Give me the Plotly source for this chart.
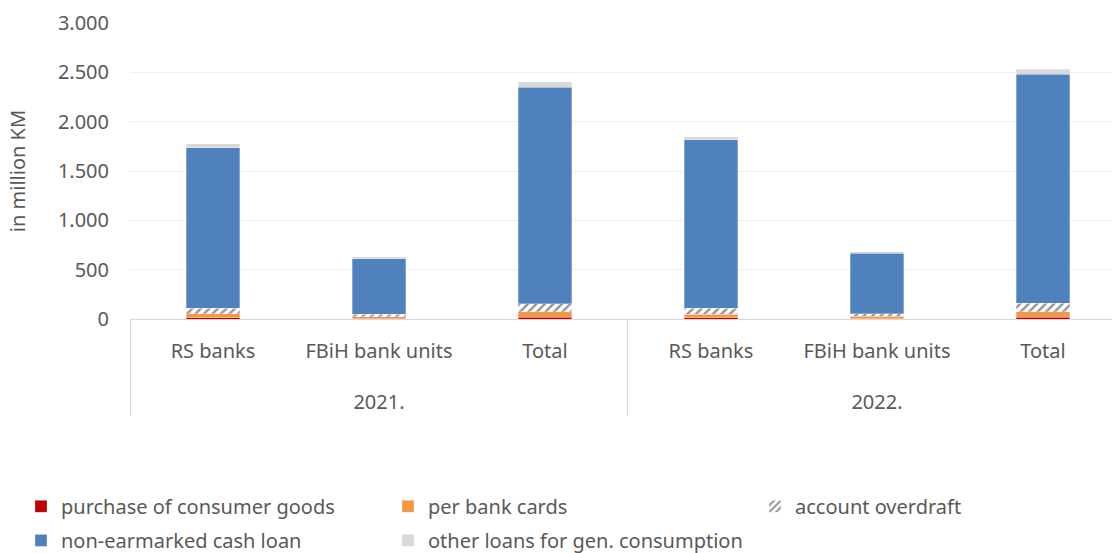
import plotly.graph_objects as go

# Consumer loans by purpose, in million KM
years = ["2021.", "2021.", "2021.", "2022.", "2022.", "2022."]
groups = ["RS banks", "FBiH bank units", "Total", "RS banks", "FBiH bank units", "Total"]

consumer_goods = [15, 3, 18, 12, 4, 16]
bank_cards = [37, 20, 57, 35, 22, 57]
overdraft = [58, 23, 81, 60, 27, 87]
cash_loan = [1627, 564, 2191, 1708, 611, 2319]
other_loans = [37, 21, 58, 33, 20, 53]

y_ticks = [0, 500, 1000, 1500, 2000, 2500, 3000]

FONT = "Noto Sans"
TXT = "#595959"
LBL = "<span style='font-size:20px'>{}</span>"
# the year row sits one (wider) line below the group labels
x = [["<br>" + LBL.format(yr) for yr in years], [LBL.format(g) for g in groups]]

fig = go.Figure()
edge = dict(color="rgba(255,255,255,0.6)", width=0.5)

fig.add_trace(go.Bar(x=x, y=consumer_goods, name="purchase of consumer goods",
                     marker=dict(color="#C00000", line=edge), legend="legend"))
fig.add_trace(go.Bar(x=x, y=bank_cards, name="per bank cards",
                     marker=dict(color="#F79646", line=edge), legend="legend"))
fig.add_trace(go.Bar(x=x, y=overdraft, name="account overdraft",
                     marker=dict(color="white", line=edge,
                                 pattern=dict(shape="/", fgcolor="#262626", bgcolor="white",
                                              size=6, solidity=0.4)),
                     legend="legend", legendwidth=200))
fig.add_trace(go.Bar(x=x, y=cash_loan, name="non-earmarked cash loan",
                     marker=dict(color="#4F81BD", line=edge), legend="legend2"))
fig.add_trace(go.Bar(x=x, y=other_loans, name="other loans for gen. consumption",
                     marker=dict(color="#D9D9D9", line=edge), legend="legend2"))

legend_common = dict(orientation="h", xanchor="left", yanchor="middle",
                     x=-0.111, entrywidth=322, entrywidthmode="pixels",
                     font=dict(family=FONT, size=20, color=TXT),
                     bgcolor="rgba(0,0,0,0)", itemclick=False, traceorder="normal")

fig.update_layout(
    width=1112, height=553,
    margin=dict(l=130, r=0, t=23, b=234, autoexpand=False),
    paper_bgcolor="white", plot_bgcolor="white",
    barmode="stack", bargap=0.68,
    separators=",.",
    font=dict(family=FONT, size=20, color=TXT),
    showlegend=True,
    legend=dict(y=-0.633, **legend_common),
    legend2=dict(y=-0.748, **legend_common),
    xaxis=dict(type="multicategory", range=[-0.5, 5.416],
               showline=True, linecolor="#D9D9D9", linewidth=1,
               showdividers=True, dividercolor="#D9D9D9", dividerwidth=1,
               ticks="", ticklabelstandoff=9,
               tickfont=dict(family=FONT, size=24, color=TXT),
               showgrid=False),
    yaxis=dict(range=[0, 3000], tickvals=y_ticks, tickformat=",",
               showgrid=True, gridcolor="#EEEEEE", gridwidth=1,
               zeroline=False, showline=False, ticks="",
               ticklabelstandoff=20,
               tickfont=dict(family=FONT, size=20, color=TXT),
               title=dict(text="in million KM", standoff=26,
                          font=dict(family=FONT, size=20, color=TXT))),
)

fig.write_html("out.html")
